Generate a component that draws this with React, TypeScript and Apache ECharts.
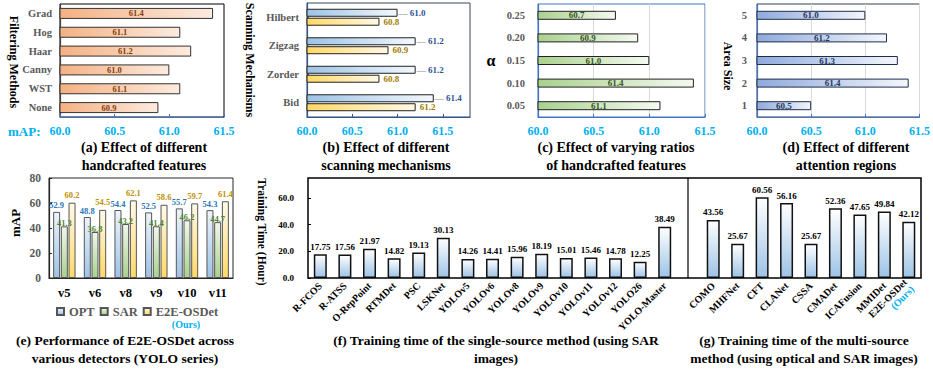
import React, { useEffect, useRef } from 'react';
import * as echarts from 'echarts';

const filterCats = ['None', 'WST', 'Canny', 'Haar', 'Hog', 'Grad'];
const filterMap = [60.9, 61.1, 61.0, 61.2, 61.1, 61.4];
const scanCats = ['Bid', 'Zorder', 'Zigzag', 'Hilbert'];
const scanBlue = [61.4, 61.2, 61.2, 61.0];
const scanYellow = [61.2, 60.8, 60.9, 60.8];
const alphaCats = ['0.05', '0.10', '0.15', '0.20', '0.25'];
const alphaMap = [61.1, 61.4, 61.0, 60.9, 60.7];
const areaCats = ['1', '2', '3', '4', '5'];
const areaMap = [60.5, 61.4, 61.3, 61.2, 61.0];
const yoloCats = ['v5', 'v6', 'v8', 'v9', 'v10', 'v11'];
const optMap = [52.9, 48.8, 54.4, 52.5, 55.7, 54.3];
const sarMap = [41.3, 36.8, 43.2, 41.4, 46.2, 44.7];
const oursMap = [60.2, 54.5, 62.1, 58.6, 59.7, 61.4];
const singleCats = ['R-FCOS', 'R-ATSS', 'O-RepPoint', 'RTMDet', 'PSC', 'LSKNet', 'YOLOv5', 'YOLOv6', 'YOLOv8', 'YOLOv9', 'YOLOv10', 'YOLOv11', 'YOLOv12', 'YOLO26', 'YOLO-Master'];
const singleHours = [17.75, 17.56, 21.97, 14.82, 19.13, 30.13, 14.26, 14.41, 15.96, 18.19, 15.01, 15.46, 14.78, 12.25, 38.49];
const multiCats = ['COMO', 'MHFNet', 'CFT', 'CLANet', 'CSSA', 'CMADet', 'ICAFusion', 'MMIDet', 'E2E-OSDet'];
const multiHours = [43.56, 25.67, 60.56, 56.16, 25.67, 52.36, 47.65, 49.84, 42.12];

const FF = '"Liberation Serif", "Times New Roman", serif';
const CYAN = '#00B0F0';
const GRAY = '#595959';

const hGrad = (c0: string, c1: string) =>
  new echarts.graphic.LinearGradient(0, 0, 1, 0, [
    { offset: 0, color: c0 },
    { offset: 1, color: c1 },
  ]);
const vGrad = (top: string, bottom: string) =>
  new echarts.graphic.LinearGradient(0, 0, 0, 1, [
    { offset: 0, color: top },
    { offset: 1, color: bottom },
  ]);

const txt = (text: string, x: number, y: number, size: number, fill = '#000', rotation = 0, align = 'center') => ({
  type: 'text',
  x,
  y,
  rotation,
  z: 20,
  style: { text, fontSize: size, fontWeight: 'bold', fontFamily: FF, fill, align, verticalAlign: 'middle' },
});

function hValueAxis(gridIndex: number, max: number, lineColor: string, split: boolean) {
  return {
    type: 'value',
    gridIndex,
    min: 60,
    max,
    interval: 0.5,
    axisLine: { show: true, lineStyle: { color: lineColor, width: 1.2 } },
    axisTick: { show: true, inside: true, length: 3, lineStyle: { color: lineColor } },
    splitLine: { show: split, lineStyle: { color: '#D9D9D9', width: 1 } },
    axisLabel: {
      color: CYAN,
      fontFamily: FF,
      fontWeight: 'bold',
      fontSize: 12,
      margin: 8,
      showMaxLabel: max === 61.5,
      formatter: (v: number) => v.toFixed(1),
    },
  };
}

function hCatAxis(gridIndex: number, data: string[], lineColor: string, margin: number) {
  return {
    type: 'category',
    gridIndex,
    data,
    axisLine: { show: true, lineStyle: { color: lineColor, width: 1.2 } },
    axisTick: { show: true, inside: true, alignWithLabel: true, length: 2, lineStyle: { color: lineColor } },
    axisLabel: { color: GRAY, fontFamily: FF, fontWeight: 'bold', fontSize: 10.5, margin },
  };
}

function buildOption() {
  const gridBase = { show: true, backgroundColor: 'transparent', borderWidth: 1, containLabel: false };
  const grid = [
    { ...gridBase, left: 60, top: 4, width: 164, height: 113, borderColor: '#000' },
    { ...gridBase, left: 307, top: 3, width: 163, height: 114, borderColor: '#3B4656' },
    { ...gridBase, left: 538, top: 4, width: 167, height: 113, borderColor: '#4472C4' },
    { ...gridBase, left: 757, top: 4, width: 165, height: 113, borderColor: '#333F50' },
    { ...gridBase, left: 49, top: 178, width: 184, height: 100, borderColor: '#262626' },
    { show: false, left: 308, top: 178, width: 369, height: 100 },
    { show: false, left: 701, top: 178, width: 220, height: 100 },
  ];

  const trainAxisLabel = {
    color: '#000',
    fontFamily: FF,
    fontWeight: 'bold',
    fontSize: 10,
    rotate: 45,
    interval: 0,
    margin: 6,
  };

  const xAxis: any[] = [
    hValueAxis(0, 61.5, '#4472C4', false),
    hValueAxis(1, 61.8, '#2F5597', false),
    hValueAxis(2, 61.5, '#4472C4', true),
    hValueAxis(3, 61.5, '#4472C4', true),
    {
      type: 'category',
      gridIndex: 4,
      data: yoloCats,
      axisLine: { show: true, lineStyle: { color: '#262626', width: 1.2 } },
      axisTick: { show: false },
      axisLabel: { color: '#000', fontFamily: FF, fontWeight: 'bold', fontSize: 12.5, margin: 8 },
    },
    {
      type: 'category',
      gridIndex: 5,
      data: singleCats,
      axisLine: { show: false },
      axisTick: { show: true, inside: true, alignWithLabel: true, length: 2, lineStyle: { color: '#404040' } },
      axisLabel: trainAxisLabel,
    },
    {
      type: 'category',
      gridIndex: 6,
      data: multiCats,
      axisLine: { show: false },
      axisTick: { show: true, inside: true, alignWithLabel: true, length: 2, lineStyle: { color: '#404040' } },
      axisLabel: {
        ...trainAxisLabel,
        formatter: (v: string) => (v === 'E2E-OSDet' ? '{a|E2E-OSDet}\n{o|(Ours)}' : '{a|' + v + '}'),
        rich: {
          a: { color: '#000', fontFamily: FF, fontWeight: 'bold', fontSize: 10 },
          o: { color: CYAN, fontFamily: FF, fontWeight: 'bold', fontSize: 10 },
        },
      },
    },
  ];

  const yAxis: any[] = [
    hCatAxis(0, filterCats, '#404040', 8),
    hCatAxis(1, scanCats, '#2F5597', 8),
    hCatAxis(2, alphaCats, '#4472C4', 13),
    hCatAxis(3, areaCats, '#4472C4', 10),
    {
      type: 'value',
      gridIndex: 4,
      min: 0,
      max: 80,
      interval: 20,
      axisLine: { show: true, lineStyle: { color: '#262626', width: 1.2 } },
      axisTick: { show: true, inside: true, length: 3, lineStyle: { color: '#262626' } },
      splitLine: { show: false },
      axisLabel: { color: GRAY, fontFamily: FF, fontWeight: 'bold', fontSize: 11.5, margin: 8 },
    },
    {
      type: 'value',
      gridIndex: 5,
      min: 0,
      max: 75,
      interval: 20,
      axisLine: { show: false },
      axisTick: { show: true, inside: true, length: 3, lineStyle: { color: '#000' } },
      splitLine: { show: false },
      axisLabel: {
        color: '#000',
        fontFamily: FF,
        fontWeight: 'bold',
        fontSize: 9,
        margin: 14,
        showMaxLabel: false,
        formatter: (v: number) => v.toFixed(1),
      },
    },
    {
      type: 'value',
      gridIndex: 6,
      min: 0,
      max: 75,
      interval: 20,
      show: false,
    },
  ];

  const inLabel = (color: string, size: number) => ({
    show: true,
    position: 'inside',
    color,
    fontFamily: FF,
    fontWeight: 'bold',
    fontSize: size,
    formatter: (p: any) => Number(p.value).toFixed(1),
  });

  const topLabel = (color: string, size: number, digits: number, distance: number) => ({
    show: true,
    position: 'top',
    distance,
    color,
    fontFamily: FF,
    fontWeight: 'bold',
    fontSize: size,
    formatter: (p: any) => Number(p.value).toFixed(digits),
  });

  const series: any[] = [
    {
      type: 'bar',
      name: 'filter',
      xAxisIndex: 0,
      yAxisIndex: 0,
      data: filterMap,
      barWidth: 11,
      itemStyle: { color: hGrad('#F4B183', '#FCEBDF'), borderColor: '#333', borderWidth: 1 },
      label: inLabel('#843C0C', 8.5),
    },
    {
      type: 'bar',
      name: 'scanBlue',
      xAxisIndex: 1,
      yAxisIndex: 1,
      data: scanBlue,
      barWidth: 8,
      barGap: '12%',
      itemStyle: { color: hGrad('#9DC3E6', '#F3F8FD'), borderColor: '#222', borderWidth: 1 },
      label: {
        show: true,
        position: 'right',
        distance: 1,
        formatter: (p: any) => '{l|—}{v| ' + Number(p.value).toFixed(1) + '}',
        rich: {
          l: { color: '#8C8C8C', fontFamily: FF, fontSize: 9 },
          v: { color: '#2F5597', fontFamily: FF, fontWeight: 'bold', fontSize: 9 },
        },
      },
    },
    {
      type: 'bar',
      name: 'scanYellow',
      xAxisIndex: 1,
      yAxisIndex: 1,
      data: scanYellow,
      barWidth: 8,
      barGap: '12%',
      itemStyle: { color: hGrad('#FFD966', '#FFF9E5'), borderColor: '#222', borderWidth: 1 },
      label: {
        show: true,
        position: 'right',
        distance: 4,
        color: '#A67C00',
        fontFamily: FF,
        fontWeight: 'bold',
        fontSize: 9,
        formatter: (p: any) => Number(p.value).toFixed(1),
      },
    },
    {
      type: 'bar',
      name: 'alpha',
      xAxisIndex: 2,
      yAxisIndex: 2,
      data: alphaMap,
      barWidth: 9,
      itemStyle: { color: hGrad('#A9D18E', '#F5FAF1'), borderColor: '#222', borderWidth: 1 },
      label: inLabel('#385723', 9),
    },
    {
      type: 'bar',
      name: 'area',
      xAxisIndex: 3,
      yAxisIndex: 3,
      data: areaMap,
      barWidth: 9,
      itemStyle: { color: hGrad('#8FAADC', '#F4F6FB'), borderColor: '#1F2D4D', borderWidth: 1 },
      label: inLabel('#1F3864', 9),
    },
    {
      type: 'bar',
      name: 'OPT',
      xAxisIndex: 4,
      yAxisIndex: 4,
      data: optMap,
      barWidth: 7,
      barGap: '10%',
      itemStyle: { color: vGrad('#EEF4FB', '#9DC3E6'), borderColor: '#555', borderWidth: 1 },
      label: topLabel('#2E75B6', 8.5, 1, 2),
    },
    {
      type: 'bar',
      name: 'SAR',
      xAxisIndex: 4,
      yAxisIndex: 4,
      data: sarMap,
      barWidth: 7,
      barGap: '10%',
      itemStyle: { color: vGrad('#F0F7EC', '#A9D18E'), borderColor: '#555', borderWidth: 1 },
      label: topLabel('#548235', 8.5, 1, -1),
    },
    {
      type: 'bar',
      name: 'E2E-OSDet',
      xAxisIndex: 4,
      yAxisIndex: 4,
      data: oursMap,
      barWidth: 7,
      barGap: '10%',
      itemStyle: { color: vGrad('#FFFAEB', '#FFD966'), borderColor: '#555', borderWidth: 1 },
      label: topLabel('#BF9000', 8.5, 1, 3),
    },
    {
      type: 'bar',
      name: 'single',
      xAxisIndex: 5,
      yAxisIndex: 5,
      data: singleHours,
      barWidth: 13,
      itemStyle: { color: vGrad('#FFFFFF', '#9DC3E6'), borderColor: '#111', borderWidth: 1.5 },
      label: topLabel('#000', 9, 2, 3),
    },
    {
      type: 'bar',
      name: 'multi',
      xAxisIndex: 6,
      yAxisIndex: 6,
      data: multiHours,
      barWidth: 13,
      itemStyle: { color: vGrad('#FFFFFF', '#9DC3E6'), borderColor: '#111', borderWidth: 1.5 },
      label: topLabel('#000', 9, 2, 3),
    },
  ];

  const graphic: any[] = [
    txt('mAP:', 8, 131, 13, CYAN, 0, 'left'),
    txt('Filtering Methods', 14, 62, 12, '#000', -Math.PI / 2),
    txt('Scanning Mechanisms', 250, 60, 12, '#000', -Math.PI / 2),
    txt('α', 491, 60, 16, '#000'),
    txt('Area Size', 728, 66, 12, '#000', -Math.PI / 2),
    txt('mAP', 15, 223, 13, '#000', Math.PI / 2),
    txt('Training Time (Hour)', 262, 232, 11.5, '#000', -Math.PI / 2),
    txt('(a) Effect of different', 144, 147, 14),
    txt('handcrafted features', 144, 165, 14),
    txt('(b) Effect of different', 386, 147, 14),
    txt('scanning mechanisms', 386, 165, 14),
    txt('(c) Effect of varying ratios', 616, 147, 14),
    txt('of handcrafted features', 616, 165, 14),
    txt('(d) Effect of different', 846, 147, 14),
    txt('attention regions', 846, 165, 14),
    txt('(e) Performance of E2E-OSDet across', 125, 340, 13.5),
    txt('various detectors (YOLO series)', 125, 358, 13.5),
    txt('(f) Training time of the single-source method (using SAR', 496, 340, 13.5),
    txt('images)', 496, 358, 13.5),
    txt('(g) Training time of the multi-source', 804, 340, 13.5),
    txt('method (using optical and SAR images)', 804, 358, 13.5),
    txt('(Ours)', 186, 324, 10, CYAN),
    {
      type: 'rect',
      z: 15,
      shape: { x: 308, y: 178, width: 613, height: 100 },
      style: { fill: 'none', stroke: '#000', lineWidth: 1.5 },
    },
    {
      type: 'line',
      z: 15,
      shape: { x1: 688, y1: 178, x2: 688, y2: 278 },
      style: { stroke: '#000', lineWidth: 1.2 },
    },
  ];

  return {
    animation: false,
    backgroundColor: '#fff',
    grid,
    xAxis,
    yAxis,
    series,
    graphic,
    legend: {
      data: ['OPT', 'SAR', 'E2E-OSDet'],
      left: 56,
      top: 305,
      padding: 0,
      itemWidth: 7,
      itemHeight: 7,
      itemGap: 5,
      icon: 'rect',
      textStyle: { fontFamily: FF, fontWeight: 'bold', fontSize: 12.5, color: GRAY },
    },
    tooltip: { show: false },
  };
}

export default function App() {
  const ref = useRef<HTMLDivElement>(null);
  useEffect(() => {
    document.body.style.margin = '0';
    const chart = echarts.init(ref.current as HTMLDivElement, null, { renderer: 'svg' });
    chart.setOption(buildOption() as any);
    return () => chart.dispose();
  }, []);
  return <div ref={ref} style={{ width: 933, height: 371 }} />;
}
